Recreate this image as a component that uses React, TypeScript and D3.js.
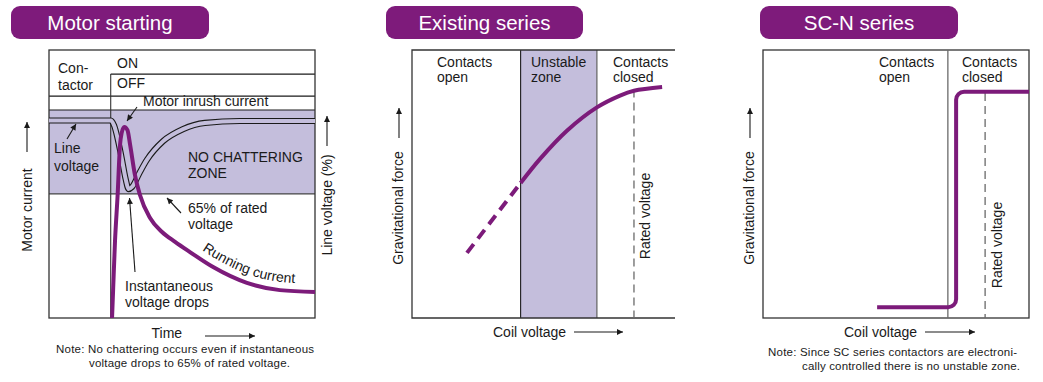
import React from "react";
import * as d3 from "d3";

// ---------- Data (domain units 0..100 in each panel) ----------
// Panel 1: Motor starting
const motorTime = [0, 23.3, 24.4, 27.1, 28.9, 29.9, 31.2, 34.2, 36.8, 42.9, 50.4, 58.6, 71.8, 100];
const lineVoltage = [73.7, 73.7, 72.0, 60.8, 51.5, 48.1, 48.9, 54.5, 59.0, 66.0, 70.5, 72.8, 73.5, 73.5];
const currentTime = [23.7, 24.1, 24.8, 25.8, 26.7, 27.3, 28.3, 29.5, 30.5, 32.3, 34.2, 38.0, 42.5, 47.4, 53.0, 61.7, 74.4, 86.8, 100];
const motorCurrent = [0, 10.4, 28.4, 45.9, 64.6, 69.0, 71.3, 70.1, 64.6, 53.4, 45.9, 37.3, 32.1, 28.4, 24.6, 19.0, 13.1, 10.4, 9.7];
const noChatterBand = [46.3, 77.6];
const contactorRows = [82.8, 91.0];
const switchTime = 23.2;

// Panel 2: Existing series
const existingVoltage = [20.9, 41.3, 48.7, 58.9, 70.3, 79.1, 84.4, 95.1];
const existingForce = [24.3, 50.4, 59.4, 69.9, 78.6, 83.0, 84.8, 86.2];
const unstableZone = [41.3, 70.3];
const ratedExisting = 84.4;
const ratedExistingTop = 85.3;

// Panel 3: SC-N series
const scnVoltage = [42.9, 72.6, 72.6, 100];
const scnForce = [4.0, 4.0, 84.4, 84.4];
const scnThreshold = 69.5;
const ratedScn = 83.5;
const ratedScnTop = 84.0;

const titles = ["Motor starting", "Existing series", "SC-N series"];

// ---------- Styles ----------
const PURPLE = "#7c1b7a";
const LAVENDER = "#c4bedc";
const INK = "#1a1a1a";
const GRAY = "#6a6a6a";
const FONT = "'Liberation Sans', Arial, Helvetica, sans-serif";

type P = { x: number; y: number };
const zip = (xs: number[], ys: number[]): P[] => xs.map((x, i) => ({ x, y: ys[i] }));

function Pill({ x, w, label }: { x: number; w: number; label: string }) {
  return (
    <g>
      <rect x={x} y={6} width={w} height={33} rx={9} fill="#7e1b7b" />
      <text x={x + w / 2} y={30} textAnchor="middle" fill="#fff" fontSize={20.5} fontFamily={FONT}>
        {label}
      </text>
    </g>
  );
}

function Arrow({ x1, y1, x2, y2, big }: { x1: number; y1: number; x2: number; y2: number; big?: boolean }) {
  return (
    <line x1={x1} y1={y1} x2={x2} y2={y2} stroke={INK} strokeWidth={1.1} markerEnd={big ? "url(#ahBig)" : "url(#ah)"} />
  );
}

function T({ x, y, children, size = 14, anchor = "start", len }: any) {
  return (
    <text x={x} y={y} fontSize={size} fontFamily={FONT} fill={INK} textAnchor={anchor}
      textLength={len} lengthAdjust={len ? "spacing" : undefined}>
      {children}
    </text>
  );
}

function VText({ x, y, children }: any) {
  return (
    <text transform={`translate(${x},${y}) rotate(-90)`} textAnchor="middle" dominantBaseline="central"
      fontSize={14} fontFamily={FONT} fill={INK}>
      {children}
    </text>
  );
}

export default function App() {
  // Panel 1 scales
  const x1 = d3.scaleLinear().domain([0, 100]).range([49, 315]);
  const y1 = d3.scaleLinear().domain([0, 100]).range([318, 50]);
  // Panel 2 scales
  const x2 = d3.scaleLinear().domain([0, 100]).range([412, 675]);
  const y2 = d3.scaleLinear().domain([0, 100]).range([318, 50]);
  // Panel 3 scales
  const x3 = d3.scaleLinear().domain([0, 100]).range([763, 1029]);
  const y3 = d3.scaleLinear().domain([0, 100]).range([318, 50]);

  const lv = zip(motorTime, lineVoltage);
  const lvPath = d3.line<P>().x(d => x1(d.x)).y(d => y1(d.y)).curve(d3.curveMonotoneX)(lv) || "";
  const cur = zip(currentTime, motorCurrent);
  const curPath = d3.line<P>().x(d => x1(d.x)).y(d => y1(d.y)).curve(d3.curveMonotoneX)(cur) || "";
  const runText = cur.filter(d => d.x >= 50);
  const runTextPath = d3.line<P>().x(d => x1(d.x) + 3).y(d => y1(d.y) - 8).curve(d3.curveMonotoneX)(runText) || "";

  const ex = zip(existingVoltage, existingForce);
  const exDashed = d3.line<P>().x(d => x2(d.x)).y(d => y2(d.y))(ex.slice(0, 2)) || "";
  const exSolid = d3.line<P>().x(d => x2(d.x)).y(d => y2(d.y)).curve(d3.curveCatmullRom.alpha(0.5))(ex.slice(1)) || "";

  const sc = zip(scnVoltage, scnForce).map(d => [x3(d.x), y3(d.y)]);
  const scp = d3.path();
  scp.moveTo(sc[0][0], sc[0][1]);
  scp.arcTo(sc[1][0], sc[1][1], sc[2][0], sc[2][1], 8);
  scp.arcTo(sc[2][0], sc[2][1], sc[3][0], sc[3][1], 8);
  scp.lineTo(sc[3][0], sc[3][1]);

  const sx = x1(switchTime);

  return (
    <svg width={1043} height={382} style={{ position: "absolute", left: 0, top: 0, background: "#fff" }}>
      <defs>
        <marker id="ah" viewBox="0 0 10 10" refX={10} refY={5} markerUnits="userSpaceOnUse" markerWidth={7} markerHeight={6} orient="auto">
          <path d="M0,0 L10,5 L0,10 z" fill={INK} />
        </marker>
        <marker id="ahBig" viewBox="0 0 10 10" refX={10} refY={5} markerUnits="userSpaceOnUse" markerWidth={9} markerHeight={6} orient="auto">
          <path d="M0,0 L10,5 L0,10 z" fill={INK} />
        </marker>
        <path id="runPath" d={runTextPath} />
      </defs>

      {/* Headers */}
      <Pill x={11} w={198} label={titles[0]} />
      <Pill x={386} w={197} label={titles[1]} />
      <Pill x={760} w={198} label={titles[2]} />

      {/* ---------- Panel 1 ---------- */}
      <rect x={x1(0)} y={y1(noChatterBand[1])} width={x1(100) - x1(0)} height={y1(noChatterBand[0]) - y1(noChatterBand[1])} fill={LAVENDER} />
      <line x1={x1(0)} x2={x1(100)} y1={y1(noChatterBand[1])} y2={y1(noChatterBand[1])} stroke={INK} strokeWidth={1.1} />
      <line x1={x1(0)} x2={x1(100)} y1={y1(noChatterBand[0])} y2={y1(noChatterBand[0])} stroke="#444" strokeWidth={1.1} />
      <line x1={x1(0)} x2={x1(100)} y1={y1(contactorRows[0])} y2={y1(contactorRows[0])} stroke={INK} strokeWidth={1.1} />
      <line x1={sx} x2={x1(100)} y1={y1(contactorRows[1])} y2={y1(contactorRows[1])} stroke={INK} strokeWidth={1.1} />
      <line x1={sx} x2={sx} y1={y1(contactorRows[1])} y2={y1(0)} stroke="#333" strokeWidth={1.1} />
      <rect x={x1(0)} y={y1(100)} width={x1(100) - x1(0)} height={y1(0) - y1(100)} fill="none" stroke="#333" strokeWidth={1.3} />

      {/* line voltage double line */}
      <path d={lvPath} fill="none" stroke={INK} strokeWidth={6.2} />
      <path d={lvPath} fill="none" stroke={LAVENDER} strokeWidth={4} />
      {/* motor current */}
      <path d={curPath} fill="none" stroke={PURPLE} strokeWidth={4} strokeLinejoin="round" />

      <T x={58} y={73}>Con-</T>
      <T x={58} y={90}>tactor</T>
      <T x={117} y={67.5}>ON</T>
      <T x={117} y={87.5}>OFF</T>
      <T x={143} y={106}>Motor inrush current</T>
      <T x={54} y={153}>Line</T>
      <T x={54} y={171}>voltage</T>
      <T x={188} y={162}>NO CHATTERING</T>
      <T x={188} y={178}>ZONE</T>
      <T x={188} y={213}>65% of rated</T>
      <T x={188} y={229}>voltage</T>
      <T x={125} y={291}>Instantaneous</T>
      <T x={125} y={307}>voltage drops</T>
      <text fontSize={14} fontFamily={FONT} fill={INK}>
        <textPath href="#runPath" startOffset={11}>Running current</textPath>
      </text>

      <Arrow x1={137} y1={107} x2={127} y2={121} />
      <Arrow x1={67} y1={139} x2={76} y2={124} />
      <Arrow x1={181} y1={213} x2={167} y2={198} />
      <Arrow x1={135} y1={272} x2={129.5} y2={198} />

      <VText x={27} y={210}>Motor current</VText>
      <Arrow x1={27} y1={152} x2={27} y2={122} big />
      <VText x={327} y={205}>Line voltage (%)</VText>
      <Arrow x1={327} y1={146} x2={327} y2={116} big />

      <T x={151.5} y={338}>Time</T>
      <Arrow x1={205} y1={336} x2={255} y2={336} big />
      <T x={56} y={353} size={11.5} len={258}>Note: No chattering occurs even if instantaneous</T>
      <T x={89} y={367} size={11.5} len={201}>voltage drops to 65% of rated voltage.</T>

      {/* ---------- Panel 2 ---------- */}
      <rect x={x2(unstableZone[0])} y={y2(100)} width={x2(unstableZone[1]) - x2(unstableZone[0])} height={y2(0) - y2(100)} fill={LAVENDER} />
      <line x1={x2(unstableZone[0])} x2={x2(unstableZone[0])} y1={y2(100)} y2={y2(0)} stroke={INK} strokeWidth={1.1} />
      <line x1={x2(unstableZone[1])} x2={x2(unstableZone[1])} y1={y2(100)} y2={y2(0)} stroke={GRAY} strokeWidth={1.3} />
      <path d={`M${x2(100)},${y2(100)} H${x2(0)} V${y2(0)} H${x2(100)}`} fill="none" stroke="#333" strokeWidth={1.3} />
      <line x1={x2(ratedExisting)} x2={x2(ratedExisting)} y1={y2(ratedExistingTop)} y2={y2(0)} stroke={GRAY} strokeWidth={1.3} strokeDasharray="8 5" />
      <path d={exDashed} fill="none" stroke={PURPLE} strokeWidth={4} strokeDasharray="11 7" />
      <path d={exSolid} fill="none" stroke={PURPLE} strokeWidth={4} />

      <T x={437} y={67}>Contacts</T>
      <T x={437} y={82}>open</T>
      <T x={531} y={67}>Unstable</T>
      <T x={531} y={82}>zone</T>
      <T x={613} y={67}>Contacts</T>
      <T x={613} y={82}>closed</T>
      <VText x={645} y={216}>Rated voltage</VText>
      <VText x={398} y={208}>Gravitational force</VText>
      <Arrow x1={399} y1={138} x2={399} y2={108} big />
      <T x={493} y={337}>Coil voltage</T>
      <Arrow x1={574} y1={332} x2={623} y2={332} big />

      {/* ---------- Panel 3 ---------- */}
      <rect x={x3(0)} y={y3(100)} width={x3(100) - x3(0)} height={y3(0) - y3(100)} fill="none" stroke="#333" strokeWidth={1.3} />
      <line x1={x3(scnThreshold)} x2={x3(scnThreshold)} y1={y3(100)} y2={y3(0)} stroke={GRAY} strokeWidth={1.3} />
      <line x1={x3(ratedScn)} x2={x3(ratedScn)} y1={y3(ratedScnTop)} y2={y3(0)} stroke={GRAY} strokeWidth={1.3} strokeDasharray="8 5" />
      <path d={scp.toString()} fill="none" stroke={PURPLE} strokeWidth={4} />

      <T x={879} y={67}>Contacts</T>
      <T x={879} y={82}>open</T>
      <T x={962} y={67}>Contacts</T>
      <T x={962} y={82}>closed</T>
      <VText x={997} y={245}>Rated voltage</VText>
      <VText x={749} y={208}>Gravitational force</VText>
      <Arrow x1={750} y1={138} x2={750} y2={108} big />
      <T x={844} y={337}>Coil voltage</T>
      <Arrow x1={925} y1={332} x2={975} y2={332} big />
      <T x={768} y={355.5} size={11.5} len={249}>Note: Since SC series contactors are electroni-</T>
      <T x={802} y={369.5} size={11.5} len={218}>cally controlled there is no unstable zone.</T>
    </svg>
  );
}
